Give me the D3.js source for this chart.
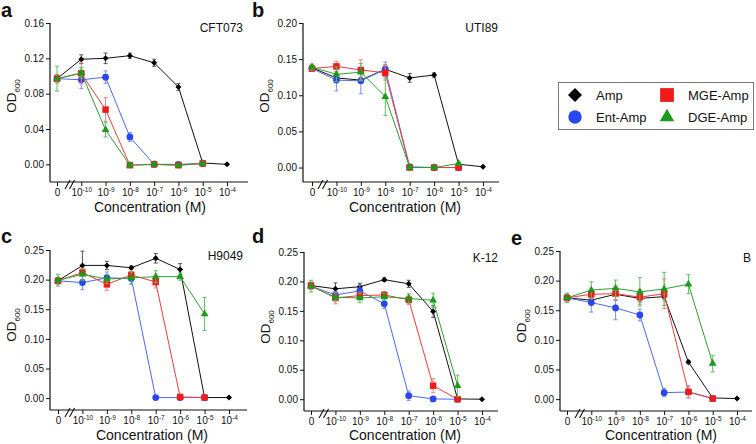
<!DOCTYPE html>
<html><head><meta charset="utf-8">
<script src="https://cdn.jsdelivr.net/npm/d3@7"></script>
<style>
body{margin:0;background:#fff}
svg{display:block}
text{font-family:"Liberation Sans",Arial,Helvetica,sans-serif;fill:#111}
</style>
</head><body>
<svg id="chart" width="756" height="444"></svg>
<script>
// ---- tick labels / categories ----
const concBase = ["0","10","10","10","10","10","10","10"];
const concExp  = ["","-10","-9","-8","-7","-6","-5","-4"];
const seriesNames = ["Amp","Ent-Amp","MGE-Amp","DGE-Amp"];
const panelLetters = ["a","b","c","d","e"];
const strains = ["CFT073","UTI89","H9049","K-12","B"];

// ---- panel a (CFT073) ----
const ampA = [0.097,0.119,0.120,0.123,0.115,0.0875,0.0015,0.0];
const entA = [0.097,0.0957,0.0987,0.031,0.0,0.0,0.001];
const mgeA = [0.097,0.103,0.062,-0.001,0.0,-0.001,0.001];
const dgeA = [0.097,0.1036,0.039,-0.001,0.0,-0.001,0.001];
const ampErrA = [0.003,0.005,0.006,0.003,0.004,0.004,0.001,0.001];
const entErrA = [0.004,0.010,0.007,0.005,0.001,0.001,0.001];
const mgeErrA = [0.005,0.012,0.0135,0.001,0.001,0.001,0.001];
const dgeErrA = [0.014,0.006,0.008,0.001,0.001,0.001,0.001];

// ---- panel b (UTI89) ----
const ampB = [0.138,0.124,0.121,0.136,0.124,0.128,0.0046,0.001];
const entB = [0.137,0.121,0.120,0.136,0.001,0.0,0.0];
const mgeB = [0.137,0.140,0.135,0.131,0.0,0.0,0.0];
const dgeB = [0.139,0.129,0.132,0.098,0.0,0.0,0.0055];
const ampErrB = [0.003,0.004,0.004,0.006,0.006,0.003,0.002,0.001];
const entErrB = [0.004,0.015,0.018,0.010,0.001,0.001,0.001];
const mgeErrB = [0.004,0.007,0.014,0.010,0.001,0.001,0.001];
const dgeErrB = [0.004,0.010,0.012,0.026,0.001,0.001,0.002];

// ---- panel c (H9049) ----
const ampC = [0.198,0.224,0.224,0.220,0.236,0.217,0.001,0.001];
const entC = [0.198,0.195,0.203,0.202,0.001,0.001,0.001];
const mgeC = [0.198,0.212,0.192,0.208,0.196,0.002,0.001];
const dgeC = [0.199,0.209,0.201,0.203,0.205,0.205,0.142];
const ampErrC = [0.005,0.024,0.007,0.003,0.008,0.010,0.001,0.001];
const entErrC = [0.005,0.012,0.010,0.010,0.001,0.001,0.001];
const mgeErrC = [0.005,0.006,0.010,0.006,0.010,0.001,0.001];
const dgeErrC = [0.010,0.010,0.008,0.010,0.010,0.006,0.028];

// ---- panel d (K-12) ----
const ampD = [0.193,0.1875,0.191,0.203,0.196,0.149,0.0005,0.0];
const entD = [0.192,0.177,0.184,0.162,0.006,0.0005,0.0];
const mgeD = [0.193,0.172,0.176,0.177,0.169,0.023,0.0];
const dgeD = [0.192,0.173,0.172,0.174,0.171,0.168,0.023];
const ampErrD = [0.005,0.010,0.006,0.003,0.006,0.010,0.001,0.001];
const entErrD = [0.005,0.006,0.010,0.008,0.008,0.002,0.001];
const mgeErrD = [0.006,0.010,0.006,0.006,0.008,0.012,0.001];
const dgeErrD = [0.010,0.006,0.008,0.006,0.008,0.012,0.018];

// ---- panel e (B) ----
const ampE = [0.171,0.167,0.177,0.170,0.173,0.0625,0.002,0.001];
const entE = [0.171,0.163,0.154,0.142,0.011,0.012,0.001];
const mgeE = [0.171,0.177,0.178,0.172,0.178,0.0124,0.001];
const dgeE = [0.171,0.184,0.187,0.181,0.186,0.194,0.060];
const ampErrE = [0.005,0.004,0.010,0.006,0.004,0.003,0.001,0.001];
const entErrE = [0.005,0.016,0.020,0.010,0.007,0.010,0.001];
const mgeErrE = [0.005,0.008,0.010,0.012,0.025,0.010,0.001];
const dgeErrE = [0.008,0.014,0.014,0.024,0.028,0.016,0.014];

// ---- assemble ----
const panelValues = [
  [ampA,entA,mgeA,dgeA],[ampB,entB,mgeB,dgeB],[ampC,entC,mgeC,dgeC],
  [ampD,entD,mgeD,dgeD],[ampE,entE,mgeE,dgeE]];
const panelErrors = [
  [ampErrA,entErrA,mgeErrA,dgeErrA],[ampErrB,entErrB,mgeErrB,dgeErrB],
  [ampErrC,entErrC,mgeErrC,dgeErrC],[ampErrD,entErrD,mgeErrD,dgeErrD],
  [ampErrE,entErrE,mgeErrE,dgeErrE]];
const yMaxes = [0.16,0.20,0.25,0.25,0.25];
const ySteps = [0.04,0.05,0.05,0.05,0.05];

// layout (pixel frames)
const frames = [
  {left:50, right:248, x0:57, x7:227, top:23, bottom:182, titleX:150, titleY:212, odY:96, letterX:1, letterY:17, strainX:243, strainY:32},
  {left:303,right:499, x0:312,x7:483, top:23, bottom:182, titleX:405, titleY:212, odY:96, letterX:252,letterY:17, strainX:498, strainY:32},
  {left:50, right:247, x0:58, x7:229, top:250,bottom:410, titleX:152, titleY:440, odY:325,letterX:1, letterY:243,strainX:243, strainY:260},
  {left:304,right:498, x0:311,x7:482, top:252,bottom:411, titleX:405, titleY:440, odY:327,letterX:252,letterY:243,strainX:498, strainY:262},
  {left:560,right:752, x0:567,x7:737, top:251,bottom:411, titleX:661, titleY:440, odY:326,letterX:511,letterY:245,strainX:751, strainY:262}
];

const colors = ["#000000","#2a45f2","#f01c1c","#1b9a1b"];
const lineColors = ["#111111","#4d68f5","#f23a3a","#2f9e2f"];
const errColors = ["#555555","#7d8ff5","#f58080","#5fbf5f"];
const symbols = [d3.symbolSquare, d3.symbolCircle, d3.symbolSquare, d3.symbolTriangle];
const symSizes = [18, 36, 42, 26];
const symRot = [45,0,0,0];

const svg = d3.select("#chart");

frames.forEach((f, p) => {
  const g = svg.append("g");
  const x = d3.scaleLinear().domain([0,7]).range([f.x0, f.x7]);
  const y = d3.scaleLinear().domain([-0.02, yMaxes[p]]).range([f.bottom, f.top]);

  // y axis
  const yTicks = d3.range(0, yMaxes[p] + 1e-9, ySteps[p]);
  const ya = g.append("g").attr("transform", `translate(${f.left},0)`)
    .call(d3.axisLeft(y).tickValues(yTicks).tickFormat(d3.format(".2f")).tickSize(4).tickSizeOuter(0).tickPadding(2));
  ya.select(".domain").remove();
  ya.append("line").attr("x1",0).attr("x2",0).attr("y1",y(yMaxes[p])).attr("y2",f.bottom)
    .attr("stroke","#111").attr("stroke-width",1.2);
  ya.selectAll(".tick line").attr("stroke","#111");
  ya.selectAll(".tick text").style("font-size","10px").style("font-family",'"Liberation Sans",Arial,sans-serif').attr("fill","#111");

  // x axis
  const xa = g.append("g").attr("transform", `translate(0,${f.bottom})`)
    .call(d3.axisBottom(x).tickValues(d3.range(8)).tickFormat(() => "").tickSize(4).tickSizeOuter(0));
  xa.select(".domain").remove();
  xa.append("line").attr("x1",f.left).attr("x2",f.right).attr("y1",0).attr("y2",0)
    .attr("stroke","#111").attr("stroke-width",1.2);
  xa.selectAll(".tick line").attr("stroke","#111");
  xa.selectAll(".tick text").each(function(d){
    const t = d3.select(this).attr("dy",null).attr("y",14)
      .style("font-size","10px").style("font-family",'"Liberation Sans",Arial,sans-serif').attr("fill","#111");
    t.text(null);
    t.append("tspan").text(concBase[d]);
    if (concExp[d]) t.append("tspan").attr("dy",-4).style("font-size","6.5px").text(concExp[d]);
  });
  // axis break marks
  [0,4.5].forEach(o => {
    xa.append("line").attr("x1",f.left+15+o).attr("y1",7).attr("x2",f.left+20+o).attr("y2",-2)
      .attr("stroke","#111").attr("stroke-width",1.1);
  });

  // axis titles
  g.append("text").attr("x",f.titleX).attr("y",f.titleY).attr("text-anchor","middle")
    .style("font-size","14px").text("Concentration (M)");
  const od = g.append("text").attr("transform",`translate(${f.left-34},${f.odY}) rotate(-90)`)
    .attr("text-anchor","middle").style("font-size","13.5px");
  od.append("tspan").text("OD");
  od.append("tspan").attr("dy",4).style("font-size","8px").text("600");

  // panel letter & strain
  g.append("text").attr("x",f.letterX).attr("y",f.letterY).style("font-size","20px").style("font-weight","bold").text(panelLetters[p]);
  g.append("text").attr("x",f.strainX).attr("y",f.strainY).attr("text-anchor","end").style("font-size","12px").text(strains[p]);

  // series
  panelValues[p].forEach((vals, s) => {
    const errs = panelErrors[p][s];
    const pts = vals.map((v,i) => ({i, v, e: errs[i]}));
    const sg = g.append("g");
    sg.append("path").datum(pts)
      .attr("d", d3.line().x(d => x(d.i)).y(d => y(d.v)))
      .attr("fill","none").attr("stroke",lineColors[s]).attr("stroke-width",1);
    const eb = sg.selectAll(".eb").data(pts).join("g").attr("stroke",errColors[s]).attr("stroke-width",1);
    eb.append("line").attr("x1",d=>x(d.i)).attr("x2",d=>x(d.i)).attr("y1",d=>y(d.v-d.e)).attr("y2",d=>y(d.v+d.e));
    eb.append("line").attr("x1",d=>x(d.i)-2).attr("x2",d=>x(d.i)+2).attr("y1",d=>y(d.v-d.e)).attr("y2",d=>y(d.v-d.e));
    eb.append("line").attr("x1",d=>x(d.i)-2).attr("x2",d=>x(d.i)+2).attr("y1",d=>y(d.v+d.e)).attr("y2",d=>y(d.v+d.e));
    sg.selectAll(".m").data(pts).join("path")
      .attr("d", d3.symbol().type(symbols[s]).size(symSizes[s]))
      .attr("transform", d => `translate(${x(d.i)},${y(d.v)}) rotate(${symRot[s]})`)
      .attr("fill", colors[s]);
  });
});

// legend
const lg = svg.append("g");
lg.append("rect").attr("x",558.5).attr("y",82.5).attr("width",195).attr("height",47)
  .attr("fill","#fff").attr("stroke","#777").attr("stroke-width",1);
const legPos = [[575,95],[575,117],[667,95],[667,117]];
const legSizes = [98, 140, 190, 90];
seriesNames.forEach((n, s) => {
  lg.append("path").attr("d", d3.symbol().type(symbols[s]).size(legSizes[s]))
    .attr("transform", `translate(${legPos[s][0]},${legPos[s][1]}) rotate(${symRot[s]})`)
    .attr("fill", colors[s]);
  lg.append("text").attr("x", legPos[s][0]+21).attr("y", legPos[s][1]+5)
    .style("font-size","13px").text(n);
});
</script>
</body></html>
